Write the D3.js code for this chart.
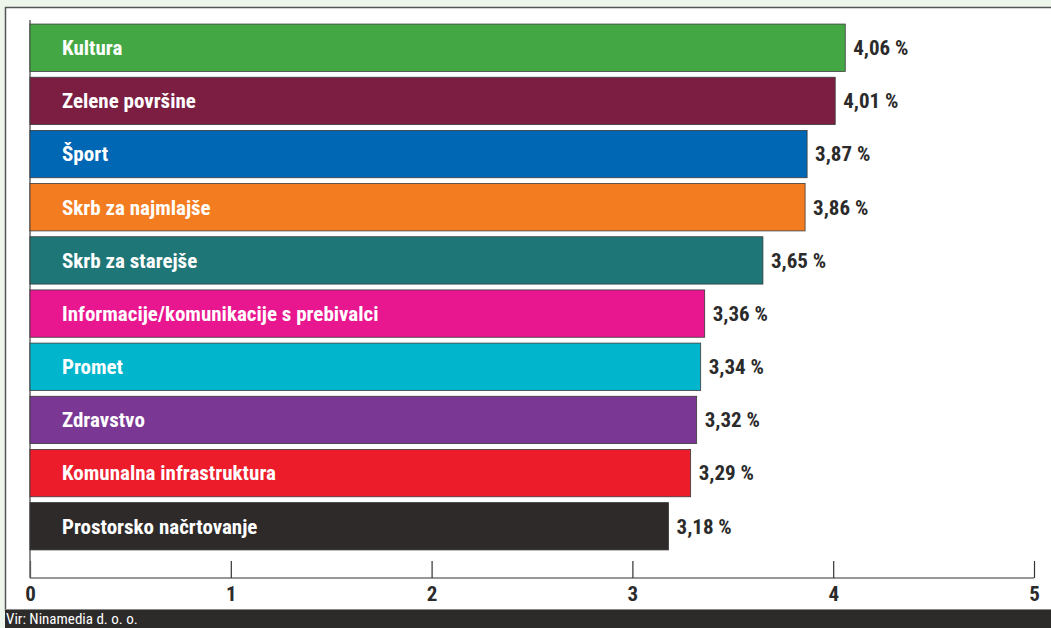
<!DOCTYPE html>
<meta charset="utf-8">
<style>
body { margin: 0; background: #eef5ea; }
text { font-family: "Liberation Sans Narrow", "Roboto Condensed", Roboto, sans-serif; font-weight: bold; }
</style>
<body>
<script src="https://cdnjs.cloudflare.com/ajax/libs/d3/7.8.5/d3.min.js"></script>
<script>

var width = 1051, height = 628;

var categories = ["Kultura", "Zelene površine", "Šport", "Skrb za najmlajše", "Skrb za starejše",
  "Informacije/komunikacije s prebivalci", "Promet", "Zdravstvo", "Komunalna infrastruktura", "Prostorsko načrtovanje"];
var values = [4.06, 4.01, 3.87, 3.86, 3.65, 3.36, 3.34, 3.32, 3.29, 3.18];
var valueLabels = ["4,06 %", "4,01 %", "3,87 %", "3,86 %", "3,65 %", "3,36 %", "3,34 %", "3,32 %", "3,29 %", "3,18 %"];
var colors = ["#43a843", "#7b1e42", "#0067b4", "#f47c20", "#1f7677", "#e8178f", "#00b5cc", "#7b3794", "#ec1c2b", "#2e2a2a"];
var ticks = [0, 1, 2, 3, 4, 5];
var source = "Vir: Ninamedia d. o. o.";

var svg = d3.select("body").append("svg")
    .attr("width", width)
    .attr("height", height);

// white panel
svg.append("rect")
    .attr("x", 5).attr("y", 7)
    .attr("width", width - 5).attr("height", 604)
    .attr("fill", "#fff");
svg.append("line")
    .attr("x1", 5).attr("x2", width).attr("y1", 7.5).attr("y2", 7.5)
    .attr("stroke", "#555").attr("stroke-width", 1.5);
svg.append("line")
    .attr("x1", 5.5).attr("x2", 5.5).attr("y1", 7).attr("y2", 611)
    .attr("stroke", "#555").attr("stroke-width", 1.5);

var x = d3.scaleLinear().domain([0, 5]).range([30, 1034]);
var y = d3.scaleBand().domain(categories).range([23, 551]).paddingInner(0.11).paddingOuter(0.02);

// axis
var axis = svg.append("g")
    .attr("transform", "translate(0,578)")
    .call(d3.axisBottom(x).tickValues(ticks).tickSize(-17).tickFormat(d3.format("d")).tickPadding(0));
axis.select(".domain").attr("stroke", "#333").attr("stroke-width", 1.2).attr("d", "M30,0H1034");
axis.selectAll(".tick line").attr("stroke", "#333").attr("stroke-width", 1.2);
axis.selectAll(".tick text")
    .attr("y", 23).attr("dy", 0)
    .attr("fill", "#2b2b2b")
    .style("font-size", "21px");

svg.append("line")
    .attr("x1", 30).attr("x2", 30).attr("y1", 20).attr("y2", 578)
    .attr("stroke", "#666").attr("stroke-width", 1.5);

var bars = svg.selectAll(".bar")
    .data(categories)
  .enter().append("g")
    .attr("class", "bar");

bars.append("rect")
    .attr("x", x(0))
    .attr("y", function(d) { return y(d); })
    .attr("width", function(d, i) { return x(values[i]) - x(0); })
    .attr("height", y.bandwidth())
    .attr("fill", function(d, i) { return colors[i]; })
    .attr("stroke", "#3a3a3a")
    .attr("stroke-width", 0.8);

bars.append("text")
    .attr("x", 62)
    .attr("y", function(d) { return y(d) + y.bandwidth() / 2; })
    .attr("dy", "0.35em")
    .attr("fill", "#fff")
    .style("font-size", "21px")
    .text(function(d) { return d; });

bars.append("text")
    .attr("x", function(d, i) { return x(values[i]) + 8; })
    .attr("y", function(d) { return y(d) + y.bandwidth() / 2; })
    .attr("dy", "0.35em")
    .attr("fill", "#2b2b2b")
    .style("font-size", "21px")
    .text(function(d, i) { return valueLabels[i]; });

// footer
svg.append("rect")
    .attr("x", 5).attr("y", 610)
    .attr("width", width - 5).attr("height", 18)
    .attr("fill", "#2d2a2a");
svg.append("line")
    .attr("x1", 5).attr("x2", width).attr("y1", 609.5).attr("y2", 609.5)
    .attr("stroke", "#888").attr("stroke-width", 1);
svg.append("text")
    .attr("x", 6).attr("y", 624)
    .attr("fill", "#fff")
    .style("font-weight", "normal")
    .style("font-size", "15px")
    .text(source);

</script>
